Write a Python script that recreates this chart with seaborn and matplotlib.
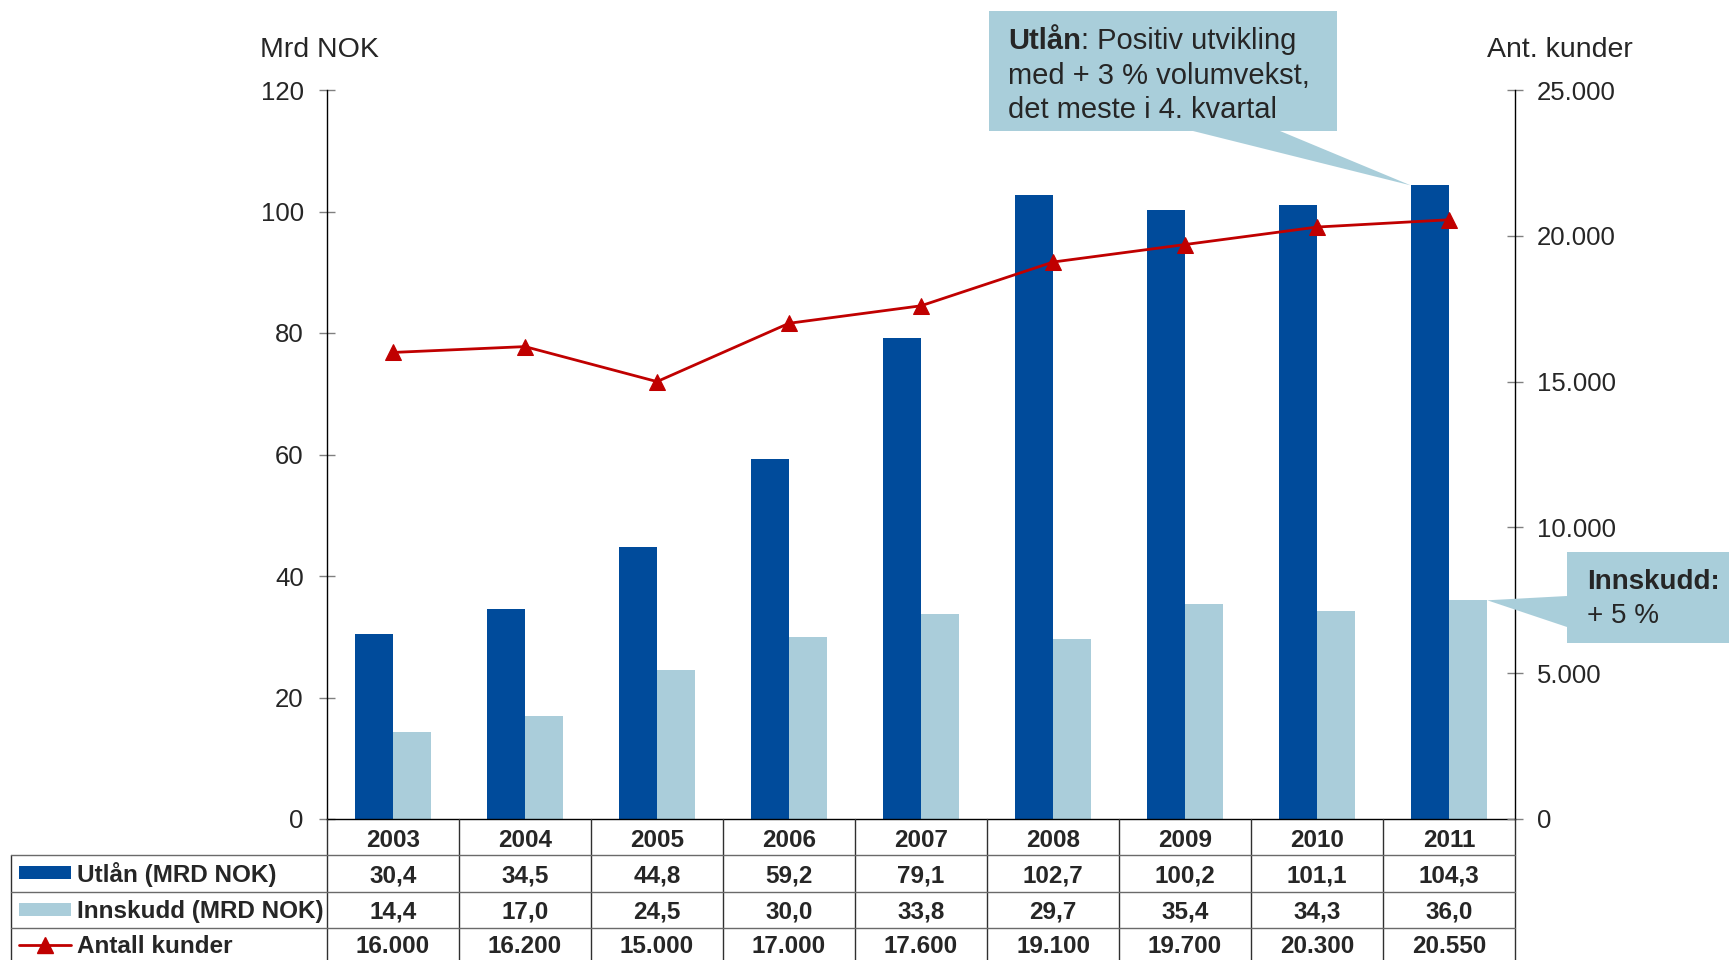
import numpy as np
import pandas as pd
import matplotlib
matplotlib.use("Agg")
import matplotlib.pyplot as plt
import matplotlib.transforms as mtransforms
from matplotlib.patches import Polygon, Rectangle
from matplotlib.lines import Line2D
from matplotlib.ticker import FuncFormatter, FixedLocator
import seaborn as sns

# ---------------- data ----------------
years = ["2003", "2004", "2005", "2006", "2007", "2008", "2009", "2010", "2011"]
utlan = [30.4, 34.5, 44.8, 59.2, 79.1, 102.7, 100.2, 101.1, 104.3]
innskudd = [14.4, 17.0, 24.5, 30.0, 33.8, 29.7, 35.4, 34.3, 36.0]
kunder = [16000, 16200, 15000, 17000, 17600, 19100, 19700, 20300, 20550]
series_names = ["Utlån (MRD NOK)", "Innskudd (MRD NOK)", "Antall kunder"]
left_ticks = [0, 20, 40, 60, 80, 100, 120]
right_ticks = [0, 5000, 10000, 15000, 20000, 25000]
left_title = "Mrd NOK"
right_title = "Ant. kunder"

BLUE = "#004B9B"
LIGHT = "#AACDDA"
RED = "#C00000"
CALLOUT = "#A9CEDA"

sns.set_style("white")
plt.rcParams["font.family"] = ["Liberation Sans", "DejaVu Sans"]

W, H = 1729, 960
fig = plt.figure(figsize=(W / 100, H / 100), dpi=100)


def fx(px):
    return px / W


def fy(py):
    return 1 - py / H


ax = fig.add_axes([fx(327), fy(819), fx(1515) - fx(327), fy(90) - fy(819)])

df = pd.DataFrame({
    "year": years * 2,
    "series": [series_names[0]] * len(years) + [series_names[1]] * len(years),
    "value": utlan + innskudd,
})
sns.barplot(data=df, x="year", y="value", hue="series", order=years,
            hue_order=series_names[:2], palette=[BLUE, LIGHT], saturation=1,
            width=0.58, gap=0, ax=ax, legend=False, errorbar=None,
            edgecolor="none", linewidth=0)
ax.set_xlim(-0.5, len(years) - 0.5)
ax.set_ylim(left_ticks[0], left_ticks[-1])
ax.yaxis.set_major_locator(FixedLocator(left_ticks))
ax.set_xlabel("")
ax.set_ylabel("")
for s in ["top", "right"]:
    ax.spines[s].set_visible(False)
for s in ["left", "bottom"]:
    ax.spines[s].set_color("black")
    ax.spines[s].set_linewidth(1.0)
ax.tick_params(axis="y", direction="inout", length=11.5, width=1, color="#808080",
               labelsize=18.5, pad=11, left=True)
ax.tick_params(axis="x", length=0, pad=(847 - 819) * 0.72)
for lab in ax.get_xticklabels():
    lab.set_fontweight("bold")
    lab.set_fontsize(17.5)
    lab.set_va("baseline")

ax2 = ax.twinx()
sns.lineplot(x=np.arange(len(years)), y=kunder, ax=ax2, color=RED, linewidth=2,
             marker="^", markersize=11, markeredgecolor=RED, markerfacecolor=RED)
ax2.set_ylim(right_ticks[0], right_ticks[-1])
ax2.yaxis.set_major_locator(FixedLocator(right_ticks))
ax2.yaxis.set_major_formatter(FuncFormatter(lambda v, p: f"{v:,.0f}".replace(",", ".")))
for s in ["top", "left", "bottom"]:
    ax2.spines[s].set_visible(False)
ax2.spines["right"].set_color("black")
ax2.spines["right"].set_linewidth(1.0)
ax2.tick_params(axis="y", direction="inout", length=11.5, width=1, color="#808080",
                labelsize=18.5, pad=10, right=True)
ax2.set_ylabel("")
ax2.set_xlim(-0.5, len(years) - 0.5)

# axis titles
fig.text(fx(260), fy(50), left_title, fontsize=20.5, va="center", ha="left")
fig.text(fx(1487), fy(50), right_title, fontsize=20.5, va="center", ha="left")

# ---------------- data table ----------------
blend = mtransforms.blended_transform_factory(ax.transData, fig.transFigure)
row_base = [882, 918, 953]
rows = [
    [f"{v:.1f}".replace(".", ",") for v in utlan],
    [f"{v:.1f}".replace(".", ",") for v in innskudd],
    [f"{v:,}".replace(",", ".") for v in kunder],
]
for r, vals in enumerate(rows):
    for i, t in enumerate(vals):
        ax.text(i, fy(row_base[r]), t, transform=blend, ha="center", va="baseline",
                fontsize=17.5, fontweight="bold", clip_on=False)
    fig.text(fx(77), fy(row_base[r]), series_names[r], ha="left", va="baseline",
             fontsize=17.5, fontweight="bold")

# grid lines
VCOL = "#303030"
HCOL = "#6a6a6a"
for k in range(len(years) + 1):
    fig.add_artist(Line2D([k - 0.5, k - 0.5], [fy(819), fy(965)], transform=blend,
                          color=VCOL, lw=1.0))
fig.add_artist(Line2D([fx(11), fx(11)], [fy(855), fy(965)], color=VCOL, lw=1.0))
for yy in [855, 892, 928]:
    fig.add_artist(Line2D([fx(11), fx(1515)], [fy(yy), fy(yy)], color=HCOL, lw=1.0))

# legend swatches in table
fig.add_artist(Rectangle((fx(19), fy(879)), fx(71) - fx(19), fy(866) - fy(879),
                         facecolor=BLUE, edgecolor="none"))
fig.add_artist(Rectangle((fx(19), fy(916)), fx(71) - fx(19), fy(903) - fy(916),
                         facecolor=LIGHT, edgecolor="none"))
fig.add_artist(Line2D([fx(19), fx(71)], [fy(945), fy(945)], color=RED, lw=2))
fig.add_artist(Line2D([fx(45)], [fy(945)], color=RED, lw=0, marker="^", markersize=11,
                      markerfacecolor=RED, markeredgecolor=RED))

# ---------------- callouts ----------------
def data_to_px(axis, x, y):
    dx, dy = axis.transData.transform((x, y))
    return dx, H - dy


tipx, tipy = data_to_px(ax, len(years) - 1 - 0.29, utlan[-1])
poly1 = [(989, 11), (1337, 11), (1337, 131), (1280, 131), (tipx, tipy), (1193, 131), (989, 131)]
fig.add_artist(Polygon([(fx(a), fy(b)) for a, b in poly1], closed=True,
                       facecolor=CALLOUT, edgecolor="none", zorder=5))
CFS = 21
t1 = fig.text(fx(1008), fy(49), "Utlån", fontsize=CFS, fontweight="bold",
              ha="left", va="baseline", zorder=6)
fig.canvas.draw()
bb = t1.get_window_extent(renderer=fig.canvas.get_renderer())
fig.text(bb.x1 / W, fy(49), ": Positiv utvikling", fontsize=CFS, ha="left",
         va="baseline", zorder=6)
fig.text(fx(1008), fy(83.5), "med + 3 % volumvekst,", fontsize=CFS, ha="left",
         va="baseline", zorder=6)
fig.text(fx(1008), fy(118), "det meste i 4. kvartal", fontsize=CFS, ha="left",
         va="baseline", zorder=6)

tip2x, tip2y = data_to_px(ax, len(years) - 1 + 0.29, innskudd[-1])
poly2 = [(1567, 552), (1740, 552), (1740, 643), (1567, 643), (1567, 627),
         (tip2x, tip2y), (1567, 596)]
fig.add_artist(Polygon([(fx(a), fy(b)) for a, b in poly2], closed=True,
                       facecolor=CALLOUT, edgecolor="none", zorder=5))
fig.text(fx(1587), fy(589), "Innskudd:", fontsize=20, fontweight="bold",
         ha="left", va="baseline", zorder=6)
fig.text(fx(1587), fy(623), "+ 5 %", fontsize=20, ha="left", va="baseline", zorder=6)

fig.savefig("out.png", dpi=100)
